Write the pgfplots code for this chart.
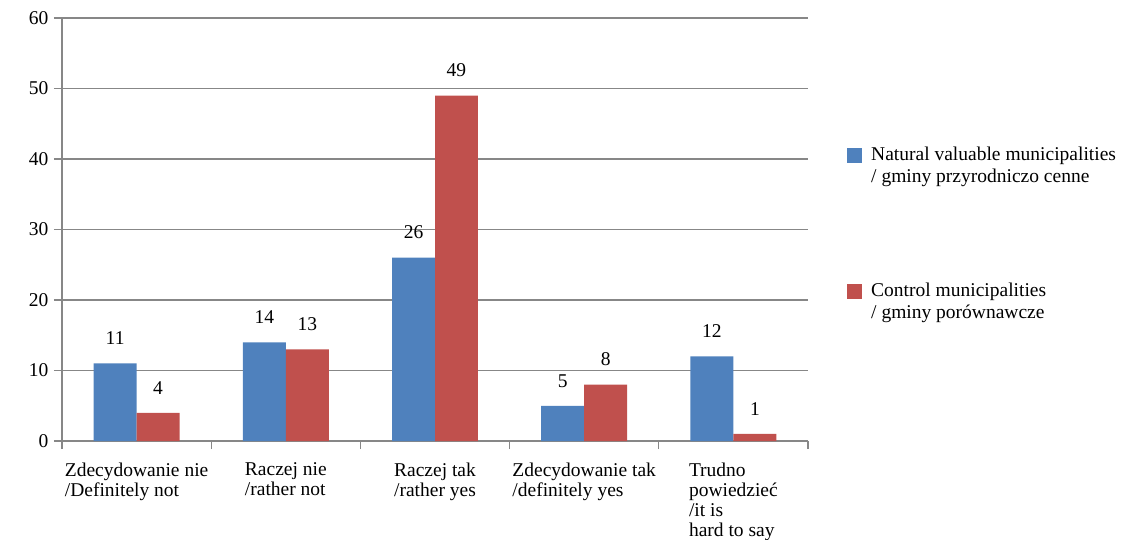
\documentclass[border=0pt]{standalone}
\usepackage{pgfplots}
\pgfplotsset{compat=1.18}
\usepackage{fontspec}
\setmainfont{Liberation Serif}
\definecolor{cblue}{HTML}{4F81BD}
\definecolor{cred}{HTML}{C0504D}
\definecolor{cgrid}{HTML}{878787}
\pgfplotsset{ybar legend/.style={/pgfplots/legend image code/.code={\fill[##1] (0pt,2.5pt) rectangle (15pt,17.5pt); \path (22pt,0pt);}}}
\newcommand{\cf}{\fontsize{19.5}{20}\selectfont}
\begin{document}
\begin{tikzpicture}[x=1pt,y=1pt]
\useasboundingbox (0,0) rectangle (1126,539);
\begin{axis}[
  at={(62pt,98pt)}, anchor=south west,
  scale only axis, width=746pt, height=423pt,
  xmin=0, xmax=5, ymin=0, ymax=60,
  axis lines*=left,
  axis line style={cgrid, line width=1.3pt, -},
  ytick={0,10,...,60},
  ymajorgrids, grid style={cgrid, line width=1.3pt},
  tick align=outside, major tick length=8pt,
  tick style={cgrid, line width=1.3pt},
  /pgf/number format/assume math mode=true,
  xtick={0,1,2,3,4,5}, xticklabels={},
  extra x ticks={0.5,1.5,2.5,3.5,4.5},
  extra x tick labels={{Zdecydowanie nie\\/Definitely not},{Raczej nie\\/rather not},{Raczej tak\\/rather yes},{Zdecydowanie tak\\/definitely yes},{Trudno\\powiedzieć\\/it is\\hard to say}},
  extra x tick style={major tick length=0pt, grid=none, xticklabel style={align=left, anchor=north, yshift=-18pt, font=\fontsize{19.5}{20}\selectfont}},
  every tick label/.append style={font=\cf, text=black},
  yticklabel style={xshift=-2pt},
  ybar, bar width=0.288,
  nodes near coords,
  nodes near coords style={font=\cf, text=black, anchor=south, yshift=15pt},
  legend style={at={(1.0523,0.700)}, anchor=north west, draw=none, fill=none, inner sep=0pt, row sep=95pt, font=\fontsize{19.5}{22}\selectfont, cells={align=left}},
  legend cell align=left,
]
\addplot[fill=cblue, draw=none, bar shift=-0.144] coordinates {(0.5,11) (1.5,14) (2.5,26) (3.5,5) (4.5,12)};
\addplot[fill=cred, draw=none, bar shift=0.144] coordinates {(0.5,4) (1.5,13) (2.5,49) (3.5,8) (4.5,1)};
\legend{{Natural valuable municipalities\\/ gminy przyrodniczo cenne},{Control municipalities\\/ gminy porównawcze}}
\end{axis}
\end{tikzpicture}
\end{document}
